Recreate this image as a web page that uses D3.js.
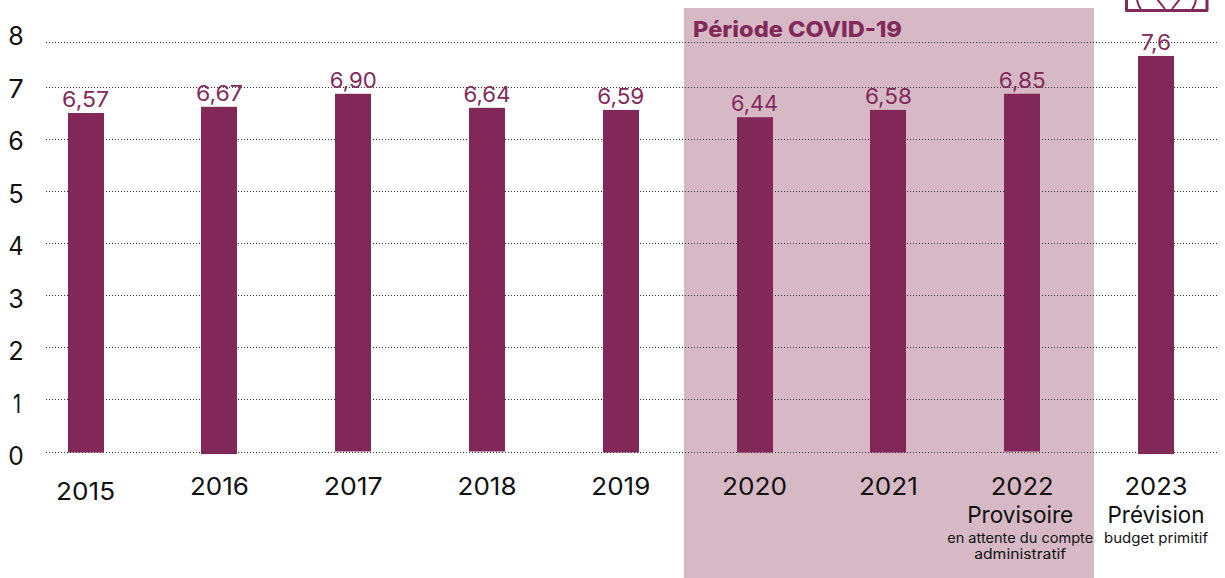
<!DOCTYPE html>
<html><head><meta charset="utf-8">
<script src="https://cdnjs.cloudflare.com/ajax/libs/d3/7.8.5/d3.min.js"></script>
<style>
html,body{margin:0;padding:0;background:#fff}
svg{display:block}
text{font-family:Inter,"Noto Sans",sans-serif}
</style></head><body>
<svg id="c" width="1225" height="578"></svg>
<script>
const years = ["2015","2016","2017","2018","2019","2020","2021","2022","2023"];
const valueLabels = ["6,57","6,67","6,90","6,64","6,59","6,44","6,58","6,85","7,6"];
const barValues = [6.50,6.62,6.87,6.60,6.56,6.42,6.56,6.87,7.69];
const barBases = [-0.02,-0.05,0,0,-0.02,-0.02,-0.02,0,-0.05];
const gridTicks = [0,1,2,3,4,5,6,7,8];
const covidTitle = "Période COVID-19";
const subLabels = [
  {year:"2022", main:"Provisoire", notes:["en attente du compte","administratif"]},
  {year:"2023", main:"Prévision", notes:["budget primitif"]}
];

// layout
const PLUM="#822858", TEXT="#82295a", BAND="#d6b9c5", INK="#111";
const yearWidth={"2020":65,"2022":63,"2023":63};
const mainWidth={"Provisoire":106,"Prévision":97};
const noteWidth={"en attente du compte":146,"administratif":92,"budget primitif":104};
const svg=d3.select("#c");
const x=d3.scalePoint().domain(years).range([85.6,1156]);
const y=d3.scaleLinear().domain([0,7,8]).range([451.5,87,42]);
const yLabel=d3.scaleLinear().domain([0,8]).range([456,36]);
const bw=36;
const stretched=(sel,w)=>sel.attr("textLength",w).attr("lengthAdjust","spacingAndGlyphs");

// COVID band
svg.append("rect").attr("x",684).attr("y",8)
  .attr("width",410).attr("height",570).attr("fill",BAND);
stretched(svg.append("text").attr("x",693).attr("y",37).attr("fill",TEXT)
  .attr("font-size",22).attr("font-weight",800).text(covidTitle),209);

// grid
svg.append("g").selectAll("line").data(gridTicks).join("line")
  .attr("x1",46).attr("x2",1218).attr("y1",d=>Math.round(y(d))+.5).attr("y2",d=>Math.round(y(d))+.5)
  .attr("stroke","#333").attr("stroke-width",1).attr("stroke-dasharray","1 2");

// y labels
svg.append("g").selectAll("text").data(gridTicks).join("text")
  .attr("x",d=>d==1?17:16).attr("y",d=>yLabel(d)).attr("dy","0.36em").attr("text-anchor","middle")
  .attr("font-size",25).attr("font-weight",400).attr("fill",INK)
  .attr("textLength",d=>d==1?8:15.5).attr("lengthAdjust","spacingAndGlyphs").text(d=>d);

// bars
svg.append("g").selectAll("rect").data(years).join("rect")
  .attr("x",d=>Math.round(x(d))-bw/2).attr("width",bw)
  .attr("y",(d,i)=>y(barValues[i]))
  .attr("height",(d,i)=>y(barBases[i])-y(barValues[i]))
  .attr("fill",PLUM);

// value labels
svg.append("g").selectAll("text").data(years).join("text")
  .attr("x",d=>x(d)).attr("y",(d,i)=>y(barValues[i])-6).attr("text-anchor","middle")
  .attr("font-size",21).attr("font-weight",400).attr("fill",TEXT)
  .attr("textLength",(d,i)=>valueLabels[i].length==3?30:47).attr("lengthAdjust","spacingAndGlyphs")
  .text((d,i)=>valueLabels[i]);

// year labels
svg.append("g").selectAll("text").data(years).join("text")
  .attr("x",d=>x(d)).attr("y",(d,i)=>i==0?500:495).attr("text-anchor","middle")
  .attr("font-size",24).attr("font-weight",400).attr("fill",INK)
  .attr("textLength",d=>yearWidth[d]||59).attr("lengthAdjust","spacingAndGlyphs").text(d=>d);

// sub labels
subLabels.forEach(s=>{
  const cx=x(s.year)-(s.year=="2022"?2:0);
  stretched(svg.append("text").attr("x",cx).attr("y",523).attr("text-anchor","middle")
    .attr("font-size",23).attr("font-weight",400).attr("fill",INK).text(s.main),mainWidth[s.main]);
  s.notes.forEach((n,i)=>stretched(svg.append("text").attr("x",cx).attr("y",543+i*16).attr("text-anchor","middle")
    .attr("font-size",14).attr("font-weight",400).attr("fill",INK).text(n),noteWidth[n]));
});

// clipped icon at the top right
const ic=svg.append("g").attr("fill","none").attr("stroke",TEXT).attr("stroke-width",3).attr("stroke-linejoin","round");
ic.append("path").attr("d","M1126.5 -2V10.5H1207V-2");
ic.append("path").attr("stroke-width",2).attr("d","M1137 -1Q1138 6 1141 9M1157 -1L1165 9M1180 -1L1172 9M1196 -1Q1195 6 1192 9");
</script></body></html>
